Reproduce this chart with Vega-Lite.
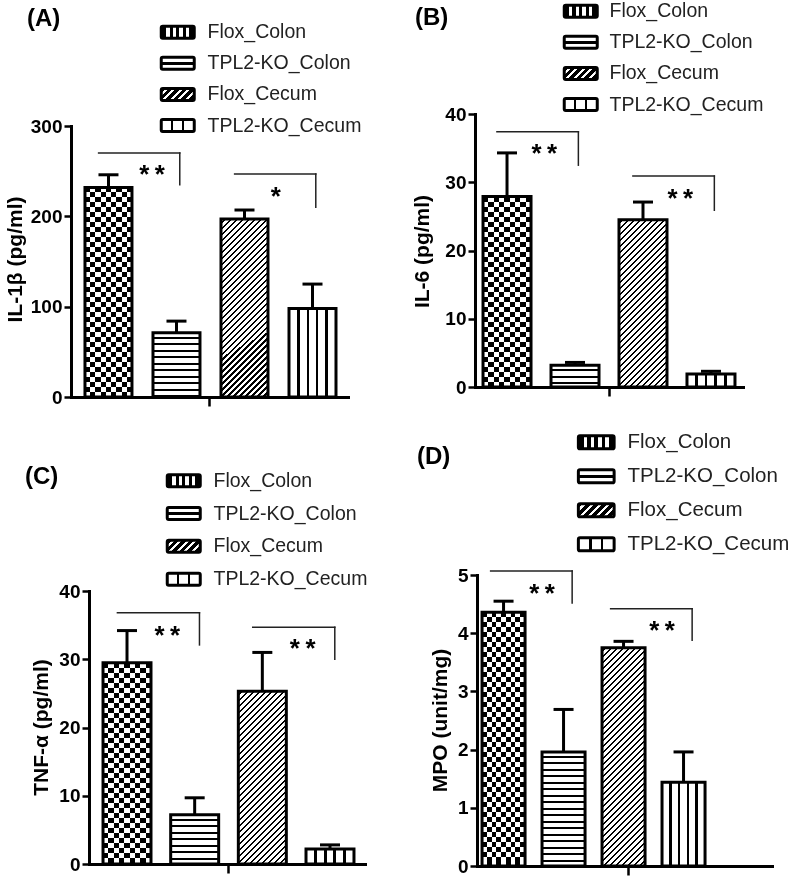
{
"$schema": "https://vega.github.io/schema/vega-lite/v6.json",
"background": "white",
"padding": 0,
"config": {"view": {"stroke": null}},
"params": [
{"name": "stCC", "value": [{"offset":0,"color":"#000"},{"offset":0.1111,"color":"#000"},{"offset":0.1111,"color":"#fff"},{"offset":0.2222,"color":"#fff"},{"offset":0.2222,"color":"#000"},{"offset":0.3333,"color":"#000"},{"offset":0.3333,"color":"#fff"},{"offset":0.4444,"color":"#fff"},{"offset":0.4444,"color":"#000"},{"offset":0.5556,"color":"#000"},{"offset":0.5556,"color":"#fff"},{"offset":0.6667,"color":"#fff"},{"offset":0.6667,"color":"#000"},{"offset":0.7778,"color":"#000"},{"offset":0.7778,"color":"#fff"},{"offset":0.8889,"color":"#fff"},{"offset":0.8889,"color":"#000"},{"offset":1,"color":"#000"}]},
{"name": "stCR", "value": [{"offset":0,"color":"#000"},{"offset":0.02,"color":"#000"},{"offset":0.02,"color":"#fff"},{"offset":0.04,"color":"#fff"},{"offset":0.04,"color":"#000"},{"offset":0.06,"color":"#000"},{"offset":0.06,"color":"#fff"},{"offset":0.08,"color":"#fff"},{"offset":0.08,"color":"#000"},{"offset":0.1,"color":"#000"},{"offset":0.1,"color":"#fff"},{"offset":0.12,"color":"#fff"},{"offset":0.12,"color":"#000"},{"offset":0.14,"color":"#000"},{"offset":0.14,"color":"#fff"},{"offset":0.16,"color":"#fff"},{"offset":0.16,"color":"#000"},{"offset":0.18,"color":"#000"},{"offset":0.18,"color":"#fff"},{"offset":0.2,"color":"#fff"},{"offset":0.2,"color":"#000"},{"offset":0.22,"color":"#000"},{"offset":0.22,"color":"#fff"},{"offset":0.24,"color":"#fff"},{"offset":0.24,"color":"#000"},{"offset":0.26,"color":"#000"},{"offset":0.26,"color":"#fff"},{"offset":0.28,"color":"#fff"},{"offset":0.28,"color":"#000"},{"offset":0.3,"color":"#000"},{"offset":0.3,"color":"#fff"},{"offset":0.32,"color":"#fff"},{"offset":0.32,"color":"#000"},{"offset":0.34,"color":"#000"},{"offset":0.34,"color":"#fff"},{"offset":0.36,"color":"#fff"},{"offset":0.36,"color":"#000"},{"offset":0.38,"color":"#000"},{"offset":0.38,"color":"#fff"},{"offset":0.4,"color":"#fff"},{"offset":0.4,"color":"#000"},{"offset":0.42,"color":"#000"},{"offset":0.42,"color":"#fff"},{"offset":0.44,"color":"#fff"},{"offset":0.44,"color":"#000"},{"offset":0.46,"color":"#000"},{"offset":0.46,"color":"#fff"},{"offset":0.48,"color":"#fff"},{"offset":0.48,"color":"#000"},{"offset":0.5,"color":"#000"},{"offset":0.5,"color":"#fff"},{"offset":0.52,"color":"#fff"},{"offset":0.52,"color":"#000"},{"offset":0.54,"color":"#000"},{"offset":0.54,"color":"#fff"},{"offset":0.56,"color":"#fff"},{"offset":0.56,"color":"#000"},{"offset":0.58,"color":"#000"},{"offset":0.58,"color":"#fff"},{"offset":0.6,"color":"#fff"},{"offset":0.6,"color":"#000"},{"offset":0.62,"color":"#000"},{"offset":0.62,"color":"#fff"},{"offset":0.64,"color":"#fff"},{"offset":0.64,"color":"#000"},{"offset":0.66,"color":"#000"},{"offset":0.66,"color":"#fff"},{"offset":0.68,"color":"#fff"},{"offset":0.68,"color":"#000"},{"offset":0.7,"color":"#000"},{"offset":0.7,"color":"#fff"},{"offset":0.72,"color":"#fff"},{"offset":0.72,"color":"#000"},{"offset":0.74,"color":"#000"},{"offset":0.74,"color":"#fff"},{"offset":0.76,"color":"#fff"},{"offset":0.76,"color":"#000"},{"offset":0.78,"color":"#000"},{"offset":0.78,"color":"#fff"},{"offset":0.8,"color":"#fff"},{"offset":0.8,"color":"#000"},{"offset":0.82,"color":"#000"},{"offset":0.82,"color":"#fff"},{"offset":0.84,"color":"#fff"},{"offset":0.84,"color":"#000"},{"offset":0.86,"color":"#000"},{"offset":0.86,"color":"#fff"},{"offset":0.88,"color":"#fff"},{"offset":0.88,"color":"#000"},{"offset":0.9,"color":"#000"},{"offset":0.9,"color":"#fff"},{"offset":0.92,"color":"#fff"},{"offset":0.92,"color":"#000"},{"offset":0.94,"color":"#000"},{"offset":0.94,"color":"#fff"},{"offset":0.96,"color":"#fff"},{"offset":0.96,"color":"#000"},{"offset":0.98,"color":"#000"},{"offset":0.98,"color":"#fff"},{"offset":1,"color":"#fff"}]},
{"name": "stHS", "value": [{"offset":0,"color":"#fff"},{"offset":0.03,"color":"#fff"},{"offset":0.03,"color":"#000"},{"offset":0.045,"color":"#000"},{"offset":0.045,"color":"#fff"},{"offset":0.08,"color":"#fff"},{"offset":0.08,"color":"#000"},{"offset":0.095,"color":"#000"},{"offset":0.095,"color":"#fff"},{"offset":0.13,"color":"#fff"},{"offset":0.13,"color":"#000"},{"offset":0.145,"color":"#000"},{"offset":0.145,"color":"#fff"},{"offset":0.18,"color":"#fff"},{"offset":0.18,"color":"#000"},{"offset":0.195,"color":"#000"},{"offset":0.195,"color":"#fff"},{"offset":0.23,"color":"#fff"},{"offset":0.23,"color":"#000"},{"offset":0.245,"color":"#000"},{"offset":0.245,"color":"#fff"},{"offset":0.28,"color":"#fff"},{"offset":0.28,"color":"#000"},{"offset":0.295,"color":"#000"},{"offset":0.295,"color":"#fff"},{"offset":0.33,"color":"#fff"},{"offset":0.33,"color":"#000"},{"offset":0.345,"color":"#000"},{"offset":0.345,"color":"#fff"},{"offset":0.38,"color":"#fff"},{"offset":0.38,"color":"#000"},{"offset":0.395,"color":"#000"},{"offset":0.395,"color":"#fff"},{"offset":0.43,"color":"#fff"},{"offset":0.43,"color":"#000"},{"offset":0.445,"color":"#000"},{"offset":0.445,"color":"#fff"},{"offset":0.48,"color":"#fff"},{"offset":0.48,"color":"#000"},{"offset":0.495,"color":"#000"},{"offset":0.495,"color":"#fff"},{"offset":0.53,"color":"#fff"},{"offset":0.53,"color":"#000"},{"offset":0.545,"color":"#000"},{"offset":0.545,"color":"#fff"},{"offset":0.58,"color":"#fff"},{"offset":0.58,"color":"#000"},{"offset":0.595,"color":"#000"},{"offset":0.595,"color":"#fff"},{"offset":0.63,"color":"#fff"},{"offset":0.63,"color":"#000"},{"offset":0.645,"color":"#000"},{"offset":0.645,"color":"#fff"},{"offset":0.68,"color":"#fff"},{"offset":0.68,"color":"#000"},{"offset":0.695,"color":"#000"},{"offset":0.695,"color":"#fff"},{"offset":0.73,"color":"#fff"},{"offset":0.73,"color":"#000"},{"offset":0.745,"color":"#000"},{"offset":0.745,"color":"#fff"},{"offset":0.78,"color":"#fff"},{"offset":0.78,"color":"#000"},{"offset":0.795,"color":"#000"},{"offset":0.795,"color":"#fff"},{"offset":0.83,"color":"#fff"},{"offset":0.83,"color":"#000"},{"offset":0.845,"color":"#000"},{"offset":0.845,"color":"#fff"},{"offset":0.88,"color":"#fff"},{"offset":0.88,"color":"#000"},{"offset":0.895,"color":"#000"},{"offset":0.895,"color":"#fff"},{"offset":0.93,"color":"#fff"},{"offset":0.93,"color":"#000"},{"offset":0.945,"color":"#000"},{"offset":0.945,"color":"#fff"},{"offset":0.98,"color":"#fff"},{"offset":0.98,"color":"#000"},{"offset":0.995,"color":"#000"},{"offset":0.995,"color":"#fff"},{"offset":1,"color":"#fff"}]},
{"name": "stDG", "value": [{"offset":0,"color":"#fff"},{"offset":0.01,"color":"#fff"},{"offset":0.01,"color":"#000"},{"offset":0.017,"color":"#000"},{"offset":0.017,"color":"#fff"},{"offset":0.03,"color":"#fff"},{"offset":0.03,"color":"#000"},{"offset":0.037,"color":"#000"},{"offset":0.037,"color":"#fff"},{"offset":0.05,"color":"#fff"},{"offset":0.05,"color":"#000"},{"offset":0.057,"color":"#000"},{"offset":0.057,"color":"#fff"},{"offset":0.07,"color":"#fff"},{"offset":0.07,"color":"#000"},{"offset":0.077,"color":"#000"},{"offset":0.077,"color":"#fff"},{"offset":0.09,"color":"#fff"},{"offset":0.09,"color":"#000"},{"offset":0.097,"color":"#000"},{"offset":0.097,"color":"#fff"},{"offset":0.11,"color":"#fff"},{"offset":0.11,"color":"#000"},{"offset":0.117,"color":"#000"},{"offset":0.117,"color":"#fff"},{"offset":0.13,"color":"#fff"},{"offset":0.13,"color":"#000"},{"offset":0.137,"color":"#000"},{"offset":0.137,"color":"#fff"},{"offset":0.15,"color":"#fff"},{"offset":0.15,"color":"#000"},{"offset":0.157,"color":"#000"},{"offset":0.157,"color":"#fff"},{"offset":0.17,"color":"#fff"},{"offset":0.17,"color":"#000"},{"offset":0.177,"color":"#000"},{"offset":0.177,"color":"#fff"},{"offset":0.19,"color":"#fff"},{"offset":0.19,"color":"#000"},{"offset":0.197,"color":"#000"},{"offset":0.197,"color":"#fff"},{"offset":0.21,"color":"#fff"},{"offset":0.21,"color":"#000"},{"offset":0.217,"color":"#000"},{"offset":0.217,"color":"#fff"},{"offset":0.23,"color":"#fff"},{"offset":0.23,"color":"#000"},{"offset":0.237,"color":"#000"},{"offset":0.237,"color":"#fff"},{"offset":0.25,"color":"#fff"},{"offset":0.25,"color":"#000"},{"offset":0.257,"color":"#000"},{"offset":0.257,"color":"#fff"},{"offset":0.27,"color":"#fff"},{"offset":0.27,"color":"#000"},{"offset":0.277,"color":"#000"},{"offset":0.277,"color":"#fff"},{"offset":0.29,"color":"#fff"},{"offset":0.29,"color":"#000"},{"offset":0.297,"color":"#000"},{"offset":0.297,"color":"#fff"},{"offset":0.31,"color":"#fff"},{"offset":0.31,"color":"#000"},{"offset":0.317,"color":"#000"},{"offset":0.317,"color":"#fff"},{"offset":0.33,"color":"#fff"},{"offset":0.33,"color":"#000"},{"offset":0.337,"color":"#000"},{"offset":0.337,"color":"#fff"},{"offset":0.35,"color":"#fff"},{"offset":0.35,"color":"#000"},{"offset":0.357,"color":"#000"},{"offset":0.357,"color":"#fff"},{"offset":0.37,"color":"#fff"},{"offset":0.37,"color":"#000"},{"offset":0.377,"color":"#000"},{"offset":0.377,"color":"#fff"},{"offset":0.39,"color":"#fff"},{"offset":0.39,"color":"#000"},{"offset":0.397,"color":"#000"},{"offset":0.397,"color":"#fff"},{"offset":0.41,"color":"#fff"},{"offset":0.41,"color":"#000"},{"offset":0.417,"color":"#000"},{"offset":0.417,"color":"#fff"},{"offset":0.43,"color":"#fff"},{"offset":0.43,"color":"#000"},{"offset":0.437,"color":"#000"},{"offset":0.437,"color":"#fff"},{"offset":0.45,"color":"#fff"},{"offset":0.45,"color":"#000"},{"offset":0.457,"color":"#000"},{"offset":0.457,"color":"#fff"},{"offset":0.47,"color":"#fff"},{"offset":0.47,"color":"#000"},{"offset":0.477,"color":"#000"},{"offset":0.477,"color":"#fff"},{"offset":0.49,"color":"#fff"},{"offset":0.49,"color":"#000"},{"offset":0.497,"color":"#000"},{"offset":0.497,"color":"#fff"},{"offset":0.51,"color":"#fff"},{"offset":0.51,"color":"#000"},{"offset":0.517,"color":"#000"},{"offset":0.517,"color":"#fff"},{"offset":0.53,"color":"#fff"},{"offset":0.53,"color":"#000"},{"offset":0.537,"color":"#000"},{"offset":0.537,"color":"#fff"},{"offset":0.55,"color":"#fff"},{"offset":0.55,"color":"#000"},{"offset":0.557,"color":"#000"},{"offset":0.557,"color":"#fff"},{"offset":0.57,"color":"#fff"},{"offset":0.57,"color":"#000"},{"offset":0.577,"color":"#000"},{"offset":0.577,"color":"#fff"},{"offset":0.59,"color":"#fff"},{"offset":0.59,"color":"#000"},{"offset":0.597,"color":"#000"},{"offset":0.597,"color":"#fff"},{"offset":0.61,"color":"#fff"},{"offset":0.61,"color":"#000"},{"offset":0.617,"color":"#000"},{"offset":0.617,"color":"#fff"},{"offset":0.63,"color":"#fff"},{"offset":0.63,"color":"#000"},{"offset":0.637,"color":"#000"},{"offset":0.637,"color":"#fff"},{"offset":0.65,"color":"#fff"},{"offset":0.65,"color":"#000"},{"offset":0.657,"color":"#000"},{"offset":0.657,"color":"#fff"},{"offset":0.67,"color":"#fff"},{"offset":0.67,"color":"#000"},{"offset":0.677,"color":"#000"},{"offset":0.677,"color":"#fff"},{"offset":0.69,"color":"#fff"},{"offset":0.69,"color":"#000"},{"offset":0.697,"color":"#000"},{"offset":0.697,"color":"#fff"},{"offset":0.71,"color":"#fff"},{"offset":0.71,"color":"#000"},{"offset":0.717,"color":"#000"},{"offset":0.717,"color":"#fff"},{"offset":0.73,"color":"#fff"},{"offset":0.73,"color":"#000"},{"offset":0.737,"color":"#000"},{"offset":0.737,"color":"#fff"},{"offset":0.75,"color":"#fff"},{"offset":0.75,"color":"#000"},{"offset":0.757,"color":"#000"},{"offset":0.757,"color":"#fff"},{"offset":0.77,"color":"#fff"},{"offset":0.77,"color":"#000"},{"offset":0.777,"color":"#000"},{"offset":0.777,"color":"#fff"},{"offset":0.79,"color":"#fff"},{"offset":0.79,"color":"#000"},{"offset":0.797,"color":"#000"},{"offset":0.797,"color":"#fff"},{"offset":0.81,"color":"#fff"},{"offset":0.81,"color":"#000"},{"offset":0.817,"color":"#000"},{"offset":0.817,"color":"#fff"},{"offset":0.83,"color":"#fff"},{"offset":0.83,"color":"#000"},{"offset":0.837,"color":"#000"},{"offset":0.837,"color":"#fff"},{"offset":0.85,"color":"#fff"},{"offset":0.85,"color":"#000"},{"offset":0.857,"color":"#000"},{"offset":0.857,"color":"#fff"},{"offset":0.87,"color":"#fff"},{"offset":0.87,"color":"#000"},{"offset":0.877,"color":"#000"},{"offset":0.877,"color":"#fff"},{"offset":0.89,"color":"#fff"},{"offset":0.89,"color":"#000"},{"offset":0.897,"color":"#000"},{"offset":0.897,"color":"#fff"},{"offset":0.91,"color":"#fff"},{"offset":0.91,"color":"#000"},{"offset":0.917,"color":"#000"},{"offset":0.917,"color":"#fff"},{"offset":0.93,"color":"#fff"},{"offset":0.93,"color":"#000"},{"offset":0.937,"color":"#000"},{"offset":0.937,"color":"#fff"},{"offset":0.95,"color":"#fff"},{"offset":0.95,"color":"#000"},{"offset":0.957,"color":"#000"},{"offset":0.957,"color":"#fff"},{"offset":0.97,"color":"#fff"},{"offset":0.97,"color":"#000"},{"offset":0.977,"color":"#000"},{"offset":0.977,"color":"#fff"},{"offset":0.99,"color":"#fff"},{"offset":0.99,"color":"#000"},{"offset":0.997,"color":"#000"},{"offset":0.997,"color":"#fff"},{"offset":1,"color":"#fff"}]},
{"name": "stVS", "value": [{"offset":0,"color":"#fff"},{"offset":0.1725,"color":"#fff"},{"offset":0.1725,"color":"#000"},{"offset":0.2275,"color":"#000"},{"offset":0.2275,"color":"#fff"},{"offset":0.3725,"color":"#fff"},{"offset":0.3725,"color":"#000"},{"offset":0.4275,"color":"#000"},{"offset":0.4275,"color":"#fff"},{"offset":0.5725,"color":"#fff"},{"offset":0.5725,"color":"#000"},{"offset":0.6275,"color":"#000"},{"offset":0.6275,"color":"#fff"},{"offset":0.7725,"color":"#fff"},{"offset":0.7725,"color":"#000"},{"offset":0.8275,"color":"#000"},{"offset":0.8275,"color":"#fff"},{"offset":1,"color":"#fff"}]},
{"name": "lgA", "value": [{"offset":0,"color":"#000"},{"offset":0.15,"color":"#000"},{"offset":0.15,"color":"#fff"},{"offset":0.25,"color":"#fff"},{"offset":0.25,"color":"#000"},{"offset":0.35,"color":"#000"},{"offset":0.35,"color":"#fff"},{"offset":0.45,"color":"#fff"},{"offset":0.45,"color":"#000"},{"offset":0.55,"color":"#000"},{"offset":0.55,"color":"#fff"},{"offset":0.65,"color":"#fff"},{"offset":0.65,"color":"#000"},{"offset":0.75,"color":"#000"},{"offset":0.75,"color":"#fff"},{"offset":0.85,"color":"#fff"},{"offset":0.85,"color":"#000"},{"offset":1,"color":"#000"}]},
{"name": "lgB", "value": [{"offset":0,"color":"#fff"},{"offset":0.38,"color":"#fff"},{"offset":0.38,"color":"#000"},{"offset":0.62,"color":"#000"},{"offset":0.62,"color":"#fff"},{"offset":1,"color":"#fff"}]},
{"name": "lgC", "value": [{"offset":0,"color":"#000"},{"offset":0.1,"color":"#000"},{"offset":0.1,"color":"#fff"},{"offset":0.1667,"color":"#fff"},{"offset":0.1667,"color":"#000"},{"offset":0.2667,"color":"#000"},{"offset":0.2667,"color":"#fff"},{"offset":0.3333,"color":"#fff"},{"offset":0.3333,"color":"#000"},{"offset":0.4333,"color":"#000"},{"offset":0.4333,"color":"#fff"},{"offset":0.5,"color":"#fff"},{"offset":0.5,"color":"#000"},{"offset":0.6,"color":"#000"},{"offset":0.6,"color":"#fff"},{"offset":0.6667,"color":"#fff"},{"offset":0.6667,"color":"#000"},{"offset":0.7667,"color":"#000"},{"offset":0.7667,"color":"#fff"},{"offset":0.8333,"color":"#fff"},{"offset":0.8333,"color":"#000"},{"offset":0.9333,"color":"#000"},{"offset":0.9333,"color":"#fff"},{"offset":1,"color":"#fff"}]},
{"name": "lgD", "value": [{"offset":0,"color":"#fff"},{"offset":0.3,"color":"#fff"},{"offset":0.3,"color":"#000"},{"offset":0.37,"color":"#000"},{"offset":0.37,"color":"#fff"},{"offset":0.63,"color":"#fff"},{"offset":0.63,"color":"#000"},{"offset":0.7,"color":"#000"},{"offset":0.7,"color":"#fff"},{"offset":1,"color":"#fff"}]}
],
"datasets": {
"bA": [{"group":"Flox_Colon","mean":232,"upper":246},{"group":"TPL2-KO_Colon","mean":71,"upper":84},{"group":"Flox_Cecum","mean":197,"upper":207},{"group":"TPL2-KO_Cecum","mean":98,"upper":125}],
"bB": [{"group":"Flox_Colon","mean":27.9,"upper":34.3},{"group":"TPL2-KO_Colon","mean":3.2,"upper":3.6},{"group":"Flox_Cecum","mean":24.5,"upper":27.1},{"group":"TPL2-KO_Cecum","mean":1.9,"upper":2.3}],
"bC": [{"group":"Flox_Colon","mean":29.5,"upper":34.2},{"group":"TPL2-KO_Colon","mean":7.2,"upper":9.7},{"group":"Flox_Cecum","mean":25.3,"upper":31.0},{"group":"TPL2-KO_Cecum","mean":2.2,"upper":2.8}],
"bD": [{"group":"Flox_Colon","mean":4.36,"upper":4.55},{"group":"TPL2-KO_Colon","mean":1.96,"upper":2.69},{"group":"Flox_Cecum","mean":3.75,"upper":3.86},{"group":"TPL2-KO_Cecum","mean":1.44,"upper":1.96}],
"sA": [{"from":"Flox_Colon","to":"TPL2-KO_Colon","top":270,"bottom":235,"label":"**","ly":253.6},{"from":"Flox_Cecum","to":"TPL2-KO_Cecum","top":247,"bottom":210,"label":"*","ly":229}],
"sB": [{"from":"Flox_Colon","to":"TPL2-KO_Colon","top":37.4,"bottom":32.5,"label":"**","ly":35.2},{"from":"Flox_Cecum","to":"TPL2-KO_Cecum","top":30.9,"bottom":25.9,"label":"**","ly":28.6}],
"sC": [{"from":"Flox_Colon","to":"TPL2-KO_Colon","top":36.8,"bottom":32.1,"label":"**","ly":34.5},{"from":"Flox_Cecum","to":"TPL2-KO_Cecum","top":34.7,"bottom":30.0,"label":"**","ly":32.6}],
"sD": [{"from":"Flox_Colon","to":"TPL2-KO_Colon","top":5.07,"bottom":4.52,"label":"**","ly":4.8},{"from":"Flox_Cecum","to":"TPL2-KO_Cecum","top":4.42,"bottom":3.88,"label":"**","ly":4.15}]
},
"columns": 2,
"spacing": 0,
"bounds": "flush",
"resolve": {"scale": {"stroke": "independent"}, "legend": {"stroke": "independent"}},
"concat": [
{
 "width": 400, "height": 397,
 "title": {"text": "(A)", "anchor": "start", "frame": "group", "dx": 27, "offset": -55, "font": "Liberation Sans", "fontSize": 24, "fontWeight": "bold", "color": "black", "baseline": "bottom"},
 "data": {"name": "bA"},
 "encoding": {"x": {"field": "group", "type": "nominal"}, "y": {"field": "mean", "type": "quantitative"}},
 "layer": [
  {"mark": {"type": "rule", "color": "black", "strokeWidth": 3},
   "encoding": {
    "x": {"field": "group", "type": "nominal", "scale": {"type": "band", "domain": ["Flox_Colon","TPL2-KO_Colon","Flox_Cecum","TPL2-KO_Cecum"], "range": [71, 348], "paddingInner": 0.309, "paddingOuter": 0.191, "align": 0.538},
      "axis": {"values": ["Flox_Cecum"], "bandPosition": -0.245, "tickExtra": false, "labels": false, "title": null, "grid": false, "domainWidth": 3, "domainColor": "black", "domainCap": "square", "tickColor": "black", "tickWidth": 2.5, "tickSize": 9}},
    "y": {"field": "mean", "type": "quantitative", "scale": {"domain": [0, 300], "range": [397, 126], "nice": false, "zero": false},
      "axis": {"values": [0, 100, 200, 300], "format": "d", "offset": -71, "grid": false, "domainWidth": 3, "domainColor": "black", "domainCap": "square", "tickColor": "black", "tickWidth": 2.5, "tickSize": 7, "labelFont": "Liberation Sans", "labelFontSize": 19, "labelFontWeight": "bold", "labelColor": "black", "labelPadding": 2, "labelFlush": false, "labelOverlap": false, "labelBound": false, "title": "IL-1β (pg/ml)", "titleFont": "Liberation Sans", "titleFontSize": 21, "titleFontWeight": "bold", "titleColor": "black", "titleX": -50, "titleY": 259, "titleBaseline": "alphabetic", "titleAlign": "center", "titleAngle": 270}},
    "y2": {"field": "upper"}}},
  {"mark": {"type": "tick", "color": "black", "opacity": 1, "thickness": 3, "size": 20}, "encoding": {"y": {"field": "upper", "type": "quantitative"}}},
  {"transform": [{"filter": "datum.group == 'Flox_Colon'"}], "mark": {"type": "bar", "fill": {"expr": "{gradient: 'linear', x1: 0, y1: 0, x2: 1, y2: 0, stops: stCC}"}}},
  {"transform": [{"filter": "datum.group == 'Flox_Colon'"}], "mark": {"type": "bar", "blend": "difference", "fill": {"expr": "{gradient: 'linear', x1: 1, y1: 0, x2: 1, y2: 1.193, stops: stCR}"}}},
  {"transform": [{"filter": "datum.group == 'TPL2-KO_Colon'"}], "mark": {"type": "bar", "fill": {"expr": "{gradient: 'linear', x1: 1, y1: 0, x2: 1, y2: 2.027, stops: stHS}"}}},
  {"transform": [{"filter": "datum.group == 'Flox_Cecum'"}], "mark": {"type": "bar", "fill": {"expr": "{gradient: 'linear', x1: 0, y1: 0, x2: 0.416, y2: 1.5755, stops: stDG}"}}},
  {"transform": [{"filter": "datum.group == 'TPL2-KO_Cecum'"}], "mark": {"type": "bar", "fill": {"expr": "{gradient: 'linear', x1: 0, y1: 0, x2: 1, y2: 0, stops: stVS}"}}},
  {"mark": {"type": "bar", "fill": "transparent", "stroke": "black", "strokeWidth": 3}},
  {"transform": [{"filter": "false"}], "mark": {"type": "bar", "fill": {"expr": "datum.value == 'Flox_Colon' ? {gradient: 'linear', x1: 0, y1: 0, x2: 1, y2: 0, stops: lgA} : datum.value == 'TPL2-KO_Colon' ? {gradient: 'linear', x1: 1, y1: 0, x2: 1, y2: 1, stops: lgB} : datum.value == 'Flox_Cecum' ? {gradient: 'linear', x1: 0, y1: 0, x2: 1.204, y2: 0.438, stops: lgC} : {gradient: 'linear', x1: 0, y1: 0, x2: 1, y2: 0, stops: lgD}"}},
   "encoding": {"stroke": {"field": "group", "type": "nominal", "scale": {"domain": ["Flox_Colon","TPL2-KO_Colon","Flox_Cecum","TPL2-KO_Cecum"], "range": ["#000","#000","#000","#000"]},
    "legend": {"orient": "none", "legendX": 168, "legendY": 22.5, "title": null, "padding": 0, "symbolType": "M-2.5,-1H2.5A0.25,0.25,0,0,1,2.75,-0.75V0.75A0.25,0.25,0,0,1,2.5,1H-2.5A0.25,0.25,0,0,1,-2.75,0.75V-0.75A0.25,0.25,0,0,1,-2.5,-1Z", "symbolSize": 144, "symbolStrokeWidth": 3, "symbolOpacity": 1,
     "labelFont": "Liberation Sans", "labelFontSize": 19.5, "labelColor": "#222", "labelOffset": 20, "labelLimit": 0, "rowPadding": 6.1}}}},
  {"data": {"name": "sA"}, "mark": {"type": "rule", "color": "#222", "strokeWidth": 1.5, "strokeCap": "square"},
   "encoding": {"x": {"field": "from", "type": "nominal", "bandPosition": 0.29}, "x2": {"field": "to", "bandPosition": 0.57}, "y": {"field": "top", "type": "quantitative"}}},
  {"data": {"name": "sA"}, "mark": {"type": "rule", "color": "#222", "strokeWidth": 1.5, "strokeCap": "square"},
   "encoding": {"x": {"field": "to", "type": "nominal", "bandPosition": 0.57}, "y": {"field": "top", "type": "quantitative"}, "y2": {"field": "bottom"}}},
  {"data": {"name": "sA"}, "transform": [{"filter": "datum.label == '**'"}], "mark": {"type": "text", "font": "Liberation Mono", "fontWeight": "bold", "fontSize": 26, "baseline": "middle", "dy": 8, "color": "black"},
   "encoding": {"x": {"field": "to", "type": "nominal", "bandPosition": -0.02}, "y": {"field": "ly", "type": "quantitative"}, "text": {"field": "label"}}},
  {"data": {"name": "sA"}, "transform": [{"filter": "datum.label == '*'"}], "mark": {"type": "text", "font": "Liberation Mono", "fontWeight": "bold", "fontSize": 26, "baseline": "middle", "dy": 8, "color": "black"},
   "encoding": {"x": {"field": "to", "type": "nominal", "bandPosition": -0.28}, "y": {"field": "ly", "type": "quantitative"}, "text": {"field": "label"}}}
 ]
},
{
 "width": 400, "height": 387,
 "title": {"text": "(B)", "anchor": "start", "frame": "group", "dx": 15, "offset": -54, "font": "Liberation Sans", "fontSize": 24, "fontWeight": "bold", "color": "black", "baseline": "bottom"},
 "data": {"name": "bB"},
 "encoding": {"x": {"field": "group", "type": "nominal"}, "y": {"field": "mean", "type": "quantitative"}},
 "layer": [
  {"mark": {"type": "rule", "color": "black", "strokeWidth": 3},
   "encoding": {
    "x": {"field": "group", "type": "nominal", "scale": {"type": "band", "domain": ["Flox_Colon","TPL2-KO_Colon","Flox_Cecum","TPL2-KO_Cecum"], "range": [75, 343], "paddingInner": 0.294, "paddingOuter": 0.118, "align": 0.5},
      "axis": {"values": ["Flox_Cecum"], "bandPosition": -0.208, "tickExtra": false, "labels": false, "title": null, "grid": false, "domainWidth": 3, "domainColor": "black", "domainCap": "square", "tickColor": "black", "tickWidth": 2.5, "tickSize": 9}},
    "y": {"field": "mean", "type": "quantitative", "scale": {"domain": [0, 40], "range": [387, 114], "nice": false, "zero": false},
      "axis": {"values": [0, 10, 20, 30, 40], "format": "d", "offset": -75, "grid": false, "domainWidth": 3, "domainColor": "black", "domainCap": "square", "tickColor": "black", "tickWidth": 2.5, "tickSize": 7, "labelFont": "Liberation Sans", "labelFontSize": 19, "labelFontWeight": "bold", "labelColor": "black", "labelPadding": 2, "labelFlush": false, "labelOverlap": false, "labelBound": false, "title": "IL-6 (pg/ml)", "titleFont": "Liberation Sans", "titleFontSize": 21, "titleFontWeight": "bold", "titleColor": "black", "titleX": -47, "titleY": 251, "titleBaseline": "alphabetic", "titleAlign": "center", "titleAngle": 270}},
    "y2": {"field": "upper"}}},
  {"mark": {"type": "tick", "color": "black", "opacity": 1, "thickness": 3, "size": 20}, "encoding": {"y": {"field": "upper", "type": "quantitative"}}},
  {"transform": [{"filter": "datum.group == 'Flox_Colon'"}], "mark": {"type": "bar", "fill": {"expr": "{gradient: 'linear', x1: 0, y1: 0, x2: 1, y2: 0, stops: stCC}"}}},
  {"transform": [{"filter": "datum.group == 'Flox_Colon'"}], "mark": {"type": "bar", "blend": "difference", "fill": {"expr": "{gradient: 'linear', x1: 1, y1: 0, x2: 1, y2: 1.313, stops: stCR}"}}},
  {"transform": [{"filter": "datum.group == 'TPL2-KO_Colon'"}], "mark": {"type": "bar", "fill": {"expr": "{gradient: 'linear', x1: 1, y1: 0, x2: 1, y2: 5.952, stops: stHS}"}}},
  {"transform": [{"filter": "datum.group == 'Flox_Cecum'"}], "mark": {"type": "bar", "fill": {"expr": "{gradient: 'linear', x1: 0, y1: 0, x2: 0.4759, y2: 1.6576, stops: stDG}"}}},
  {"transform": [{"filter": "datum.group == 'TPL2-KO_Cecum'"}], "mark": {"type": "bar", "fill": {"expr": "{gradient: 'linear', x1: 0, y1: 0, x2: 1, y2: 0, stops: stVS}"}}},
  {"mark": {"type": "bar", "fill": "transparent", "stroke": "black", "strokeWidth": 3}},
  {"transform": [{"filter": "false"}], "mark": {"type": "bar", "fill": {"expr": "datum.value == 'Flox_Colon' ? {gradient: 'linear', x1: 0, y1: 0, x2: 1, y2: 0, stops: lgA} : datum.value == 'TPL2-KO_Colon' ? {gradient: 'linear', x1: 1, y1: 0, x2: 1, y2: 1, stops: lgB} : datum.value == 'Flox_Cecum' ? {gradient: 'linear', x1: 0, y1: 0, x2: 1.204, y2: 0.438, stops: lgC} : {gradient: 'linear', x1: 0, y1: 0, x2: 1, y2: 0, stops: lgD}"}},
   "encoding": {"stroke": {"field": "group", "type": "nominal", "scale": {"domain": ["Flox_Colon","TPL2-KO_Colon","Flox_Cecum","TPL2-KO_Cecum"], "range": ["#000","#000","#000","#000"]},
    "legend": {"orient": "none", "legendX": 171, "legendY": 1.5, "title": null, "padding": 0, "symbolType": "M-2.5,-1H2.5A0.25,0.25,0,0,1,2.75,-0.75V0.75A0.25,0.25,0,0,1,2.5,1H-2.5A0.25,0.25,0,0,1,-2.75,0.75V-0.75A0.25,0.25,0,0,1,-2.5,-1Z", "symbolSize": 144, "symbolStrokeWidth": 3, "symbolOpacity": 1,
     "labelFont": "Liberation Sans", "labelFontSize": 19.5, "labelColor": "#222", "labelOffset": 19, "labelLimit": 0, "rowPadding": 6.1}}}},
  {"data": {"name": "sB"}, "mark": {"type": "rule", "color": "#222", "strokeWidth": 1.5, "strokeCap": "square"},
   "encoding": {"x": {"field": "from", "type": "nominal", "bandPosition": 0.29}, "x2": {"field": "to", "bandPosition": 0.57}, "y": {"field": "top", "type": "quantitative"}}},
  {"data": {"name": "sB"}, "mark": {"type": "rule", "color": "#222", "strokeWidth": 1.5, "strokeCap": "square"},
   "encoding": {"x": {"field": "to", "type": "nominal", "bandPosition": 0.57}, "y": {"field": "top", "type": "quantitative"}, "y2": {"field": "bottom"}}},
  {"data": {"name": "sB"}, "mark": {"type": "text", "font": "Liberation Mono", "fontWeight": "bold", "fontSize": 26, "baseline": "middle", "dy": 8, "color": "black"},
   "encoding": {"x": {"field": "to", "type": "nominal", "bandPosition": -0.14}, "y": {"field": "ly", "type": "quantitative"}, "text": {"field": "label"}}}
 ]
},
{
 "width": 400, "height": 467,
 "title": {"text": "(C)", "anchor": "start", "frame": "group", "dx": 25, "offset": -116, "font": "Liberation Sans", "fontSize": 24, "fontWeight": "bold", "color": "black", "baseline": "bottom"},
 "data": {"name": "bC"},
 "encoding": {"x": {"field": "group", "type": "nominal"}, "y": {"field": "mean", "type": "quantitative"}},
 "layer": [
  {"mark": {"type": "rule", "color": "black", "strokeWidth": 3},
   "encoding": {
    "x": {"field": "group", "type": "nominal", "scale": {"type": "band", "domain": ["Flox_Colon","TPL2-KO_Colon","Flox_Cecum","TPL2-KO_Cecum"], "range": [89, 365], "paddingInner": 0.291, "paddingOuter": 0.185, "align": 0.56},
      "axis": {"values": ["Flox_Cecum"], "bandPosition": -0.215, "tickExtra": false, "labels": false, "title": null, "grid": false, "domainWidth": 3, "domainColor": "black", "domainCap": "square", "tickColor": "black", "tickWidth": 2.5, "tickSize": 9}},
    "y": {"field": "mean", "type": "quantitative", "scale": {"domain": [0, 40], "range": [467, 194], "nice": false, "zero": false},
      "axis": {"values": [0, 10, 20, 30, 40], "format": "d", "offset": -89, "grid": false, "domainWidth": 3, "domainColor": "black", "domainCap": "square", "tickColor": "black", "tickWidth": 2.5, "tickSize": 7, "labelFont": "Liberation Sans", "labelFontSize": 19, "labelFontWeight": "bold", "labelColor": "black", "labelPadding": 2, "labelFlush": false, "labelOverlap": false, "labelBound": false, "title": "TNF-α (pg/ml)", "titleFont": "Liberation Sans", "titleFontSize": 21, "titleFontWeight": "bold", "titleColor": "black", "titleX": -42, "titleY": 330, "titleBaseline": "alphabetic", "titleAlign": "center", "titleAngle": 270}},
    "y2": {"field": "upper"}}},
  {"mark": {"type": "tick", "color": "black", "opacity": 1, "thickness": 3, "size": 20}, "encoding": {"y": {"field": "upper", "type": "quantitative"}}},
  {"transform": [{"filter": "datum.group == 'Flox_Colon'"}], "mark": {"type": "bar", "fill": {"expr": "{gradient: 'linear', x1: 0, y1: 0, x2: 1, y2: 0, stops: stCC}"}}},
  {"transform": [{"filter": "datum.group == 'Flox_Colon'"}], "mark": {"type": "bar", "blend": "difference", "fill": {"expr": "{gradient: 'linear', x1: 1, y1: 0, x2: 1, y2: 1.242, stops: stCR}"}}},
  {"transform": [{"filter": "datum.group == 'TPL2-KO_Colon'"}], "mark": {"type": "bar", "fill": {"expr": "{gradient: 'linear', x1: 1, y1: 0, x2: 1, y2: 2.646, stops: stHS}"}}},
  {"transform": [{"filter": "datum.group == 'Flox_Cecum'"}], "mark": {"type": "bar", "fill": {"expr": "{gradient: 'linear', x1: 0, y1: 0, x2: 0.4482, y2: 1.6126, stops: stDG}"}}},
  {"transform": [{"filter": "datum.group == 'TPL2-KO_Cecum'"}], "mark": {"type": "bar", "fill": {"expr": "{gradient: 'linear', x1: 0, y1: 0, x2: 1, y2: 0, stops: stVS}"}}},
  {"mark": {"type": "bar", "fill": "transparent", "stroke": "black", "strokeWidth": 3}},
  {"transform": [{"filter": "false"}], "mark": {"type": "bar", "fill": {"expr": "datum.value == 'Flox_Colon' ? {gradient: 'linear', x1: 0, y1: 0, x2: 1, y2: 0, stops: lgA} : datum.value == 'TPL2-KO_Colon' ? {gradient: 'linear', x1: 1, y1: 0, x2: 1, y2: 1, stops: lgB} : datum.value == 'Flox_Cecum' ? {gradient: 'linear', x1: 0, y1: 0, x2: 1.204, y2: 0.438, stops: lgC} : {gradient: 'linear', x1: 0, y1: 0, x2: 1, y2: 0, stops: lgD}"}},
   "encoding": {"stroke": {"field": "group", "type": "nominal", "scale": {"domain": ["Flox_Colon","TPL2-KO_Colon","Flox_Cecum","TPL2-KO_Cecum"], "range": ["#000","#000","#000","#000"]},
    "legend": {"orient": "none", "legendX": 174, "legendY": 74, "title": null, "padding": 0, "symbolType": "M-2.5,-1H2.5A0.25,0.25,0,0,1,2.75,-0.75V0.75A0.25,0.25,0,0,1,2.5,1H-2.5A0.25,0.25,0,0,1,-2.75,0.75V-0.75A0.25,0.25,0,0,1,-2.5,-1Z", "symbolSize": 144, "symbolStrokeWidth": 3, "symbolOpacity": 1,
     "labelFont": "Liberation Sans", "labelFontSize": 19.5, "labelColor": "#222", "labelOffset": 20, "labelLimit": 0, "rowPadding": 7.8}}}},
  {"data": {"name": "sC"}, "mark": {"type": "rule", "color": "#222", "strokeWidth": 1.5, "strokeCap": "square"},
   "encoding": {"x": {"field": "from", "type": "nominal", "bandPosition": 0.3}, "x2": {"field": "to", "bandPosition": 0.6}, "y": {"field": "top", "type": "quantitative"}}},
  {"data": {"name": "sC"}, "mark": {"type": "rule", "color": "#222", "strokeWidth": 1.5, "strokeCap": "square"},
   "encoding": {"x": {"field": "to", "type": "nominal", "bandPosition": 0.6}, "y": {"field": "top", "type": "quantitative"}, "y2": {"field": "bottom"}}},
  {"data": {"name": "sC"}, "mark": {"type": "text", "font": "Liberation Mono", "fontWeight": "bold", "fontSize": 26, "baseline": "middle", "dy": 8, "color": "black"},
   "encoding": {"x": {"field": "to", "type": "nominal", "bandPosition": -0.07}, "y": {"field": "ly", "type": "quantitative"}, "text": {"field": "label"}}}
 ]
},
{
 "width": 400, "height": 469,
 "title": {"text": "(D)", "anchor": "start", "frame": "group", "dx": 17, "offset": -96, "font": "Liberation Sans", "fontSize": 24, "fontWeight": "bold", "color": "black", "baseline": "bottom"},
 "data": {"name": "bD"},
 "encoding": {"x": {"field": "group", "type": "nominal"}, "y": {"field": "mean", "type": "quantitative"}},
 "layer": [
  {"mark": {"type": "rule", "color": "black", "strokeWidth": 3},
   "encoding": {
    "x": {"field": "group", "type": "nominal", "scale": {"type": "band", "domain": ["Flox_Colon","TPL2-KO_Colon","Flox_Cecum","TPL2-KO_Cecum"], "range": [77, 372], "paddingInner": 0.283, "paddingOuter": 0.6, "align": 0.07},
      "axis": {"values": ["Flox_Cecum"], "bandPosition": 0.605, "tickExtra": false, "labels": false, "title": null, "grid": false, "domainWidth": 3, "domainColor": "black", "domainCap": "square", "tickColor": "black", "tickWidth": 2.5, "tickSize": 9}},
    "y": {"field": "mean", "type": "quantitative", "scale": {"domain": [0, 5], "range": [469, 178], "nice": false, "zero": false},
      "axis": {"values": [0, 1, 2, 3, 4, 5], "format": "d", "offset": -77, "grid": false, "domainWidth": 3, "domainColor": "black", "domainCap": "square", "tickColor": "black", "tickWidth": 2.5, "tickSize": 7, "labelFont": "Liberation Sans", "labelFontSize": 19, "labelFontWeight": "bold", "labelColor": "black", "labelPadding": 2, "labelFlush": false, "labelOverlap": false, "labelBound": false, "title": "MPO (unit/mg)", "titleFont": "Liberation Sans", "titleFontSize": 21, "titleFontWeight": "bold", "titleColor": "black", "titleX": -31, "titleY": 323, "titleBaseline": "alphabetic", "titleAlign": "center", "titleAngle": 270}},
    "y2": {"field": "upper"}}},
  {"mark": {"type": "tick", "color": "black", "opacity": 1, "thickness": 3, "size": 20}, "encoding": {"y": {"field": "upper", "type": "quantitative"}}},
  {"transform": [{"filter": "datum.group == 'Flox_Colon'"}], "mark": {"type": "bar", "fill": {"expr": "{gradient: 'linear', x1: 0, y1: 0, x2: 1, y2: 0, stops: stCC}"}}},
  {"transform": [{"filter": "datum.group == 'Flox_Colon'"}], "mark": {"type": "bar", "blend": "difference", "fill": {"expr": "{gradient: 'linear', x1: 1, y1: 0, x2: 1, y2: 0.985, stops: stCR}"}}},
  {"transform": [{"filter": "datum.group == 'TPL2-KO_Colon'"}], "mark": {"type": "bar", "fill": {"expr": "{gradient: 'linear', x1: 1, y1: 0, x2: 1, y2: 1.139, stops: stHS}"}}},
  {"transform": [{"filter": "datum.group == 'Flox_Cecum'"}], "mark": {"type": "bar", "fill": {"expr": "{gradient: 'linear', x1: 0, y1: 0, x2: 0.2606, y2: 1.3229, stops: stDG}"}}},
  {"transform": [{"filter": "datum.group == 'TPL2-KO_Cecum'"}], "mark": {"type": "bar", "fill": {"expr": "{gradient: 'linear', x1: 0, y1: 0, x2: 1, y2: 0, stops: stVS}"}}},
  {"mark": {"type": "bar", "fill": "transparent", "stroke": "black", "strokeWidth": 3}},
  {"transform": [{"filter": "false"}], "mark": {"type": "bar", "fill": {"expr": "datum.value == 'Flox_Colon' ? {gradient: 'linear', x1: 0, y1: 0, x2: 1, y2: 0, stops: lgA} : datum.value == 'TPL2-KO_Colon' ? {gradient: 'linear', x1: 1, y1: 0, x2: 1, y2: 1, stops: lgB} : datum.value == 'Flox_Cecum' ? {gradient: 'linear', x1: 0, y1: 0, x2: 1.204, y2: 0.438, stops: lgC} : {gradient: 'linear', x1: 0, y1: 0, x2: 1, y2: 0, stops: lgD}"}},
   "encoding": {"stroke": {"field": "group", "type": "nominal", "scale": {"domain": ["Flox_Colon","TPL2-KO_Colon","Flox_Cecum","TPL2-KO_Cecum"], "range": ["#000","#000","#000","#000"]},
    "legend": {"orient": "none", "legendX": 186, "legendY": 35, "title": null, "padding": 0, "symbolType": "M-2.5,-1H2.5A0.25,0.25,0,0,1,2.75,-0.75V0.75A0.25,0.25,0,0,1,2.5,1H-2.5A0.25,0.25,0,0,1,-2.75,0.75V-0.75A0.25,0.25,0,0,1,-2.5,-1Z", "symbolSize": 169, "symbolStrokeWidth": 3, "symbolOpacity": 1,
     "labelFont": "Liberation Sans", "labelFontSize": 20.5, "labelColor": "#222", "labelOffset": 21, "labelLimit": 0, "rowPadding": 8}}}},
  {"data": {"name": "sD"}, "mark": {"type": "rule", "color": "#222", "strokeWidth": 1.5, "strokeCap": "square"},
   "encoding": {"x": {"field": "from", "type": "nominal", "bandPosition": 0.2}, "x2": {"field": "to", "bandPosition": 0.7}, "y": {"field": "top", "type": "quantitative"}}},
  {"data": {"name": "sD"}, "mark": {"type": "rule", "color": "#222", "strokeWidth": 1.5, "strokeCap": "square"},
   "encoding": {"x": {"field": "to", "type": "nominal", "bandPosition": 0.7}, "y": {"field": "top", "type": "quantitative"}, "y2": {"field": "bottom"}}},
  {"data": {"name": "sD"}, "mark": {"type": "text", "font": "Liberation Mono", "fontWeight": "bold", "fontSize": 26, "baseline": "middle", "dy": 8, "color": "black"},
   "encoding": {"x": {"field": "to", "type": "nominal", "bandPosition": 0}, "y": {"field": "ly", "type": "quantitative"}, "text": {"field": "label"}}}
 ]
}
]
}
